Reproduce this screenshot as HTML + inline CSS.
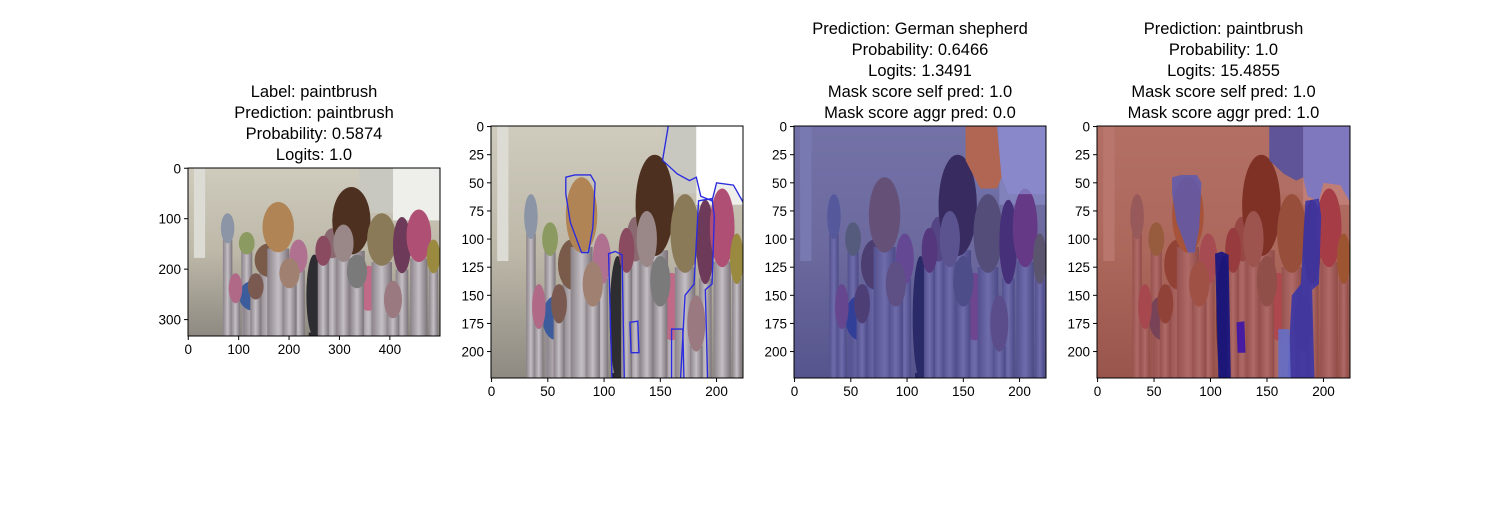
<!DOCTYPE html>
<html><head><meta charset="utf-8">
<style>
body{margin:0;background:#fff;width:1500px;height:500px;overflow:hidden;font-family:"Liberation Sans","DejaVu Sans",sans-serif}
svg text{font-family:"Liberation Sans","DejaVu Sans",sans-serif}
</style></head>
<body>
<svg id="fig" width="1500" height="500" viewBox="0 0 1500 500" xmlns="http://www.w3.org/2000/svg">
<defs>
<linearGradient id="bg" x1="0" y1="0" x2="0" y2="1">
<stop offset="0" stop-color="#cfcbbd"/><stop offset="0.5" stop-color="#bdb8a8"/><stop offset="1" stop-color="#8e8a82"/>
</linearGradient>
<linearGradient id="handle" x1="0" y1="0" x2="1" y2="0">
<stop offset="0" stop-color="#8a8288"/><stop offset="0.5" stop-color="#c4bfc4"/><stop offset="1" stop-color="#7a7278"/>
</linearGradient>
</defs>
</svg>
<script>
const titles1 = ["Label: paintbrush","Prediction: paintbrush","Probability: 0.5874","Logits: 1.0"];
const titles2 = [];
const titles3 = ["Prediction: German shepherd","Probability: 0.6466","Logits: 1.3491","Mask score self pred: 1.0","Mask score aggr pred: 0.0"];
const titles4 = ["Prediction: paintbrush","Probability: 1.0","Logits: 15.4855","Mask score self pred: 1.0","Mask score aggr pred: 1.0"];
const xticks1 = [0,100,200,300,400];
const yticks1 = [0,100,200,300];
const xticks2 = [0,50,100,150,200];
const yticks2 = [0,25,50,75,100,125,150,175,200];
// brushes: x center, tip top, tip bottom, width, tip color (data units 0-224)
const brushX = [35,52,58,72,80,98,112,128,145,160,172,190,205,218,42,60,90,138,150,120,182];
const brushTop = [60,85,150,100,45,95,115,80,25,130,60,65,55,95,140,140,120,75,115,90,150];
const brushBot = [100,115,190,145,112,140,224,120,115,190,130,140,125,140,180,175,160,125,160,130,200];
const brushW = [12,14,26,26,28,16,14,16,34,24,26,16,22,12,12,14,18,18,18,14,16];
const brushColor = ["#8c95a5","#8a9a60","#3d5c9c","#7a5a48","#b08455","#b07090","#2e2e32","#8a6a70","#4d3020","#c06a88","#8a7a58","#6e3a5a","#b04f74","#9a8a40","#b06a88","#7a5a50","#a08070","#9a8888","#7a7a7a","#8a4a60","#9a7a80"];
function addEl(parent, tag, attrs){const e=document.createElementNS("http://www.w3.org/2000/svg",tag);for(const k in attrs)e.setAttribute(k,attrs[k]);parent.appendChild(e);return e;}
const fig=document.getElementById('fig');
function scene(g){
  addEl(g,'rect',{x:-0.5,y:-0.5,width:224,height:224,fill:'url(#bg)'});
  addEl(g,'rect',{x:5,y:-0.5,width:10,height:120,fill:'#dcdcd4'});
  addEl(g,'rect',{x:152,y:-0.5,width:30,height:60,fill:'#c8c8c0'});
  addEl(g,'rect',{x:182,y:-0.5,width:42,height:70,fill:'#eeeeea'});
  for(let i=0;i<brushX.length;i++){
    const x=brushX[i],w=brushW[i];
    const h=addEl(g,'rect',{x:x-w*0.35,y:brushBot[i]-5,width:w*0.7,height:230-brushBot[i],fill:i==6?'#2a2a2e':'url(#handle)'});
    
    
    const t=addEl(g,'ellipse',{cx:x,cy:(brushTop[i]+brushBot[i])/2,rx:w/2,ry:(brushBot[i]-brushTop[i])/2,fill:brushColor[i]});
    
    
  }
}
const whitePoly="182,0 224,0 224,68 215,52 200,50 196,66 186,62 182,45";
const framePoly="157,0 182,0 182,45 176,48 165,42 152,30 152,0";
const tipPoly="66,45 74,43 88,43 92,50 90,90 86,112 80,112 70,85 66,60";
const blackPoly="104,113 110,111 116,114 118,224 107,224";
const purplePoly="184,66 196,64 198,80 196,140 190,145 192,224 168,224 172,150 180,140";
const pinkPoly="123,174 130,173 131,201 124,201";
const greyPoly="160,180 170,180 171,224 160,224";
function axes(name,x0,y0,w,h,dw,dh,xt,yt,titles,draw){
  const ax=addEl(fig,'g',{});
  
  
  const sx=w/dw, sy=h/dh;
  const inner=addEl(ax,'svg',{x:x0,y:y0,width:w,height:h,viewBox:`-0.5 -0.5 ${dw} ${dh}`,preserveAspectRatio:'none'});
  
  
  draw(inner);
  addEl(ax,'rect',{x:x0,y:y0,width:w,height:h,fill:'none',stroke:'#000','stroke-width':1});
  xt.forEach(v=>{const px=x0+(v+0.5)*sx;
    addEl(ax,'line',{x1:px,y1:y0+h,x2:px,y2:y0+h+4,stroke:'#000'});
    const t=addEl(ax,'text',{x:px,y:y0+h+18,'text-anchor':'middle','font-size':13.5});t.textContent=v;
    
    });
  yt.forEach(v=>{const py=y0+(v+0.5)*sy;
    addEl(ax,'line',{x1:x0-4,y1:py,x2:x0,y2:py,stroke:'#000'});
    const t=addEl(ax,'text',{x:x0-7,y:py+5,'text-anchor':'end','font-size':13.5});t.textContent=v;
    
    });
  const n=titles.length;
  titles.forEach((s,i)=>{const t=addEl(ax,'text',{x:x0+w/2,y:y0-8-(n-1-i)*21,'text-anchor':'middle','font-size':16.5});t.textContent=s;
    
    });
}
axes('panel-original',188,168,252,168,500,333,xticks1,yticks1,titles1,g=>{
  const s=addEl(g,'g',{transform:'scale(2.232,1.487)'}); scene(s);});
axes('panel-contours',491,126,252,252,224,224,xticks2,yticks2,titles2,g=>{
  scene(g);
  addEl(g,'polygon',{points:whitePoly,fill:'#ffffff',stroke:'none'});
  addEl(g,'polyline',{points:"157,0 152,30 165,42 176,48 182,45 186,62 196,66 200,50 215,52 224,68",fill:'none',stroke:'#2a2ae0','stroke-width':1.2});
  [tipPoly,blackPoly,purplePoly,pinkPoly,greyPoly].forEach(p=>addEl(g,'polygon',{points:p,fill:'none',stroke:'#2a2ae0','stroke-width':1.2}));
});
axes('panel-mask-german-shepherd',794,126,252,252,224,224,xticks2,yticks2,titles3,g=>{
  scene(g);
  addEl(g,'rect',{x:-0.5,y:-0.5,width:224,height:224,fill:'rgba(40,40,150,0.55)'});
  addEl(g,'polygon',{points:"157,0 180,0 184,45 180,55 165,55 152,30 152,0",fill:'#b06652'});
  addEl(g,'polygon',{points:"180,0 224,0 224,60 190,60 184,45",fill:'rgba(140,140,210,0.7)'});
});
axes('panel-mask-paintbrush',1097,126,253,252,224,224,xticks2,yticks2,titles4,g=>{
  scene(g);
  addEl(g,'rect',{x:-0.5,y:-0.5,width:224,height:224,fill:'rgba(160,50,40,0.6)'});
  addEl(g,'polygon',{points:whitePoly,fill:'rgba(120,120,200,0.9)'});
  addEl(g,'polygon',{points:framePoly,fill:'rgba(80,80,160,0.85)'});
  addEl(g,'polygon',{points:tipPoly,fill:'rgba(90,90,180,0.8)'});
  addEl(g,'polygon',{points:blackPoly,fill:'rgba(20,20,130,0.9)'});
  addEl(g,'polygon',{points:purplePoly,fill:'rgba(50,50,170,0.85)'});
  addEl(g,'polygon',{points:pinkPoly,fill:'rgba(60,20,170,0.9)'});
  addEl(g,'polygon',{points:greyPoly,fill:'rgba(100,110,200,0.9)'});
});
</script>
</body></html>
